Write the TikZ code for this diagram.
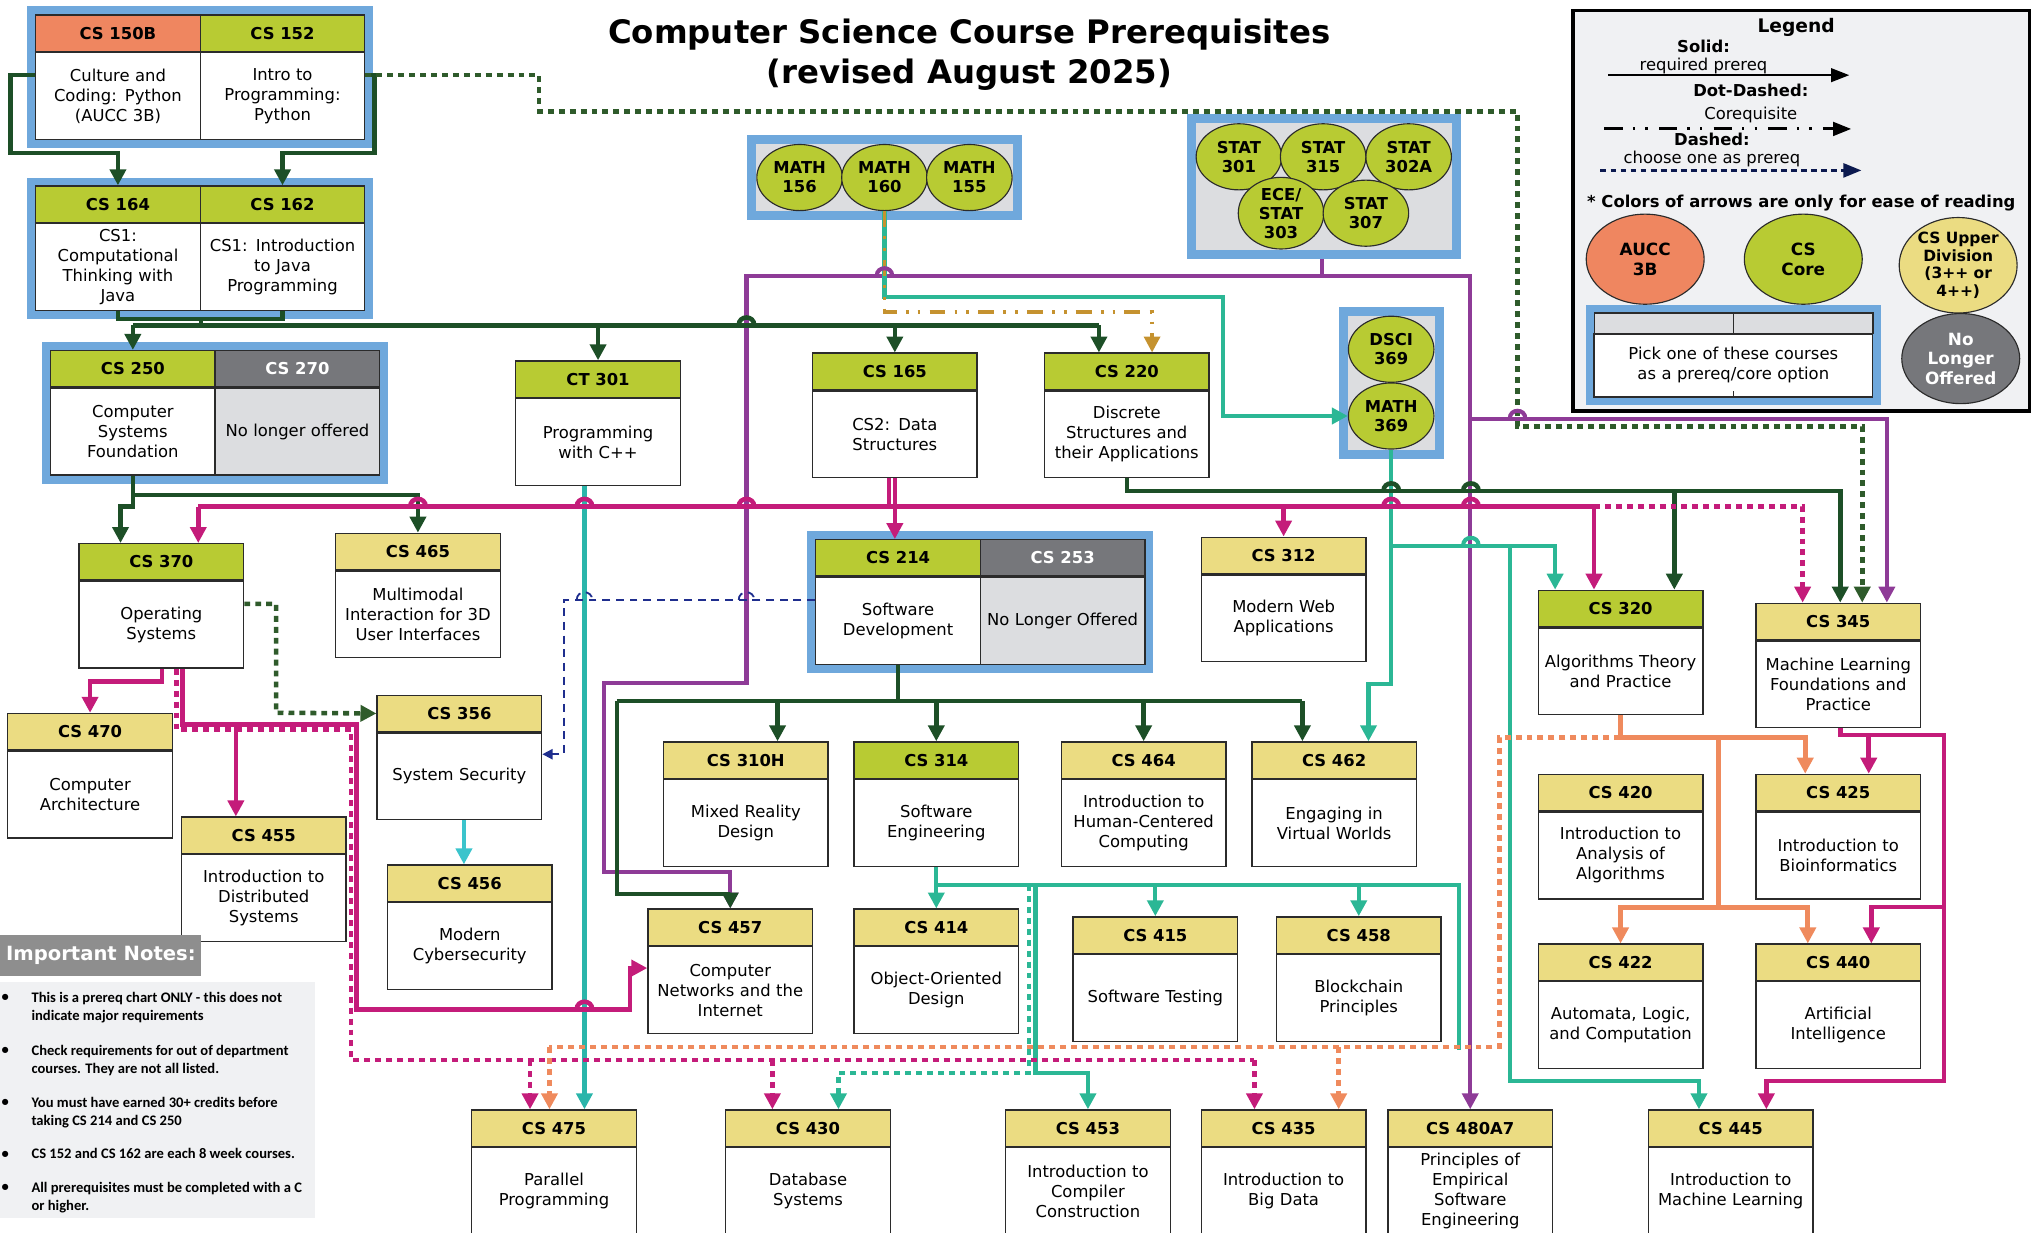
\documentclass[tikz,border=0pt]{standalone}
\usepackage{fontspec}
\setmainfont{DejaVu Sans}
\newfontfamily\notesfont{Carlito}
\usetikzlibrary{arrows.meta,fit,backgrounds,shapes.geometric}

\definecolor{corecol}{HTML}{B8CB33}
\definecolor{uppercol}{HTML}{EBDC82}
\definecolor{aucccol}{HTML}{EF8660}
\definecolor{gonecol}{HTML}{76777B}
\definecolor{gonebody}{HTML}{DCDDE0}
\definecolor{framecol}{HTML}{6FA8DC}
\definecolor{legendbg}{HTML}{F0F1F3}
\definecolor{notehead}{HTML}{8E8E8E}
\definecolor{boxline}{HTML}{2B2B2B}
\definecolor{gcol}{HTML}{1D4F27}
\definecolor{gdotcol}{HTML}{2F5B2B}
\definecolor{mcol}{HTML}{C41C7A}
\definecolor{tcol}{HTML}{2BB795}
\definecolor{tcoltwo}{HTML}{2AB5AA}
\definecolor{ccol}{HTML}{3BC4CC}
\definecolor{pcol}{HTML}{8E3B97}
\definecolor{ocol}{HTML}{EF8A5D}
\definecolor{goldcol}{HTML}{C5922F}
\definecolor{navycol}{HTML}{1F2E8E}
\definecolor{darknavy}{HTML}{0C1A4F}

\newcommand\course[6][desc]{%
  \node[#4] (#2) at (#3) {#5};
  \node[#1] (#2b) at (#2.south) {#6};}
\newcommand\linehop[3]{\draw[#1] (#2-6,#3) .. controls (#2-6,#3-8) and (#2+6,#3-8) .. (#2+6,#3);}

\begin{document}
\begin{tikzpicture}[x=0.2mm, y=-0.2mm,
  >={Triangle[length=7pt,width=7pt]},
  hdr/.style={draw=boxline, line width=0.6pt, minimum width=25.4mm, minimum height=5.6mm, inner sep=0pt, anchor=north, font=\bfseries\fontsize{7.2}{8}\selectfont},
  core/.style={hdr, fill=corecol},
  upper/.style={hdr, fill=uppercol},
  aucc/.style={hdr, fill=aucccol},
  gone/.style={hdr, fill=gonecol, text=white},
  desc/.style={draw=boxline, line width=0.6pt, fill=white, minimum width=25.4mm, minimum height=13.4mm, text width=24mm, align=center, inner sep=0pt, anchor=north, font=\fontsize{7.2}{8.8}\selectfont},
  gonedesc/.style={desc, fill=gonebody},
  grp/.style={fill=framecol, inner sep=1.2mm},
  cgrp/.style={fill=gonebody, draw=framecol, line width=1.4mm, inner sep=0.7mm},
  oval/.style={ellipse, draw=boxline, line width=0.5pt, fill=corecol, minimum width=13.2mm, minimum height=10.2mm, inner sep=0pt, align=center, font=\bfseries\fontsize{7.2}{8.4}\selectfont},
  bigoval/.style={oval, minimum width=18.2mm, minimum height=13.9mm, font=\bfseries\fontsize{7.4}{8.6}\selectfont},
  gline/.style={draw=gcol, line width=2pt},
  gdot/.style={draw=gdotcol, line width=2pt, dash pattern=on 2.6pt off 2.2pt},
  mline/.style={draw=mcol, line width=2pt},
  mdot/.style={draw=mcol, line width=2pt, dash pattern=on 2.6pt off 2.2pt},
  tline/.style={draw=tcol, line width=1.8pt},
  tdot/.style={draw=tcol, line width=2pt, dash pattern=on 2.6pt off 2.2pt},
  cline/.style={draw=ccol, line width=1.8pt},
  pline/.style={draw=pcol, line width=1.8pt},
  oline/.style={draw=ocol, line width=2.2pt},
  odot/.style={draw=ocol, line width=2pt, dash pattern=on 2.6pt off 2.2pt},
  goldline/.style={draw=goldcol, line width=1.6pt, dash pattern=on 7pt off 4pt on 1.2pt off 4pt on 1.2pt off 4pt},
  nline/.style={draw=navycol, line width=0.8pt, dash pattern=on 3.5pt off 2.5pt, >={Triangle[length=4.5pt,width=4.5pt]}},
  lgtext/.style={font=\fontsize{7.2}{8.6}\selectfont, inner sep=0pt},
  lgbold/.style={font=\bfseries\fontsize{7.2}{8.6}\selectfont, inner sep=0pt},
  note/.style={anchor=north west, inner sep=0pt, align=left, font=\notesfont\bfseries\fontsize{6.4}{7.9}\selectfont},
  bul/.style={inner sep=0pt, font=\notesfont\bfseries\fontsize{6.4}{7.9}\selectfont}
]
\useasboundingbox (0,0) rectangle (1568,951);

\node[font=\bfseries\fontsize{14.2}{17.6}\selectfont, align=center] (title) at (748,42)
  {Computer Science Course Prerequisites\\(revised August 2025)};

\course{c150b}{91,11}{aucc}{CS 150B}{Culture and\\Coding: Python\\(AUCC 3B)}
\course{c152}{218,11}{core}{CS 152}{Intro to\\Programming:\\Python}
\course{c164}{91,143}{core}{CS 164}{CS1:\\Computational\\Thinking with\\Java}
\course{c162}{218,143}{core}{CS 162}{CS1: Introduction\\to Java\\Programming}
\course{c250}{102.5,270}{core}{CS 250}{Computer\\Systems\\Foundation}
\course[gonedesc]{c270}{229.5,270}{gone}{CS 270}{No longer offered}
\course{c301}{461.5,278}{core}{CT 301}{Programming\\with C++}
\course{c165}{690.5,272}{core}{CS 165}{CS2: Data\\Structures}
\course{c220}{869.5,272}{core}{CS 220}{Discrete\\Structures and\\their Applications}

\course{c370}{124.5,419}{core}{CS 370}{Operating\\Systems}
\course{c465}{322.5,411}{upper}{CS 465}{Multimodal\\Interaction for 3D\\User Interfaces}
\course{c214}{693,416}{core}{CS 214}{Software\\Development}
\course[gonedesc]{c253}{820,416}{gone}{CS 253}{No Longer Offered}
\course{c312}{990.5,414}{upper}{CS 312}{Modern Web\\Applications}
\course{c320}{1250.5,455}{core}{CS 320}{Algorithms Theory\\and Practice}
\course{c345}{1418.5,465}{upper}{CS 345}{Machine Learning\\Foundations and\\Practice}

\course{c470}{69.5,550}{upper}{CS 470}{Computer\\Architecture}
\course{c356}{354.5,536}{upper}{CS 356}{System Security}
\course{c455}{203.5,630}{upper}{CS 455}{Introduction to\\Distributed\\Systems}
\course{c456}{362.5,667}{upper}{CS 456}{Modern\\Cybersecurity}

\course{c310h}{575.5,572}{upper}{CS 310H}{Mixed Reality\\Design}
\course{c314}{722.5,572}{core}{CS 314}{Software\\Engineering}
\course{c464}{882.5,572}{upper}{CS 464}{Introduction to\\Human-Centered\\Computing}
\course{c462}{1029.5,572}{upper}{CS 462}{Engaging in\\Virtual Worlds}
\course{c420}{1250.5,597}{upper}{CS 420}{Introduction to\\Analysis of\\Algorithms}
\course{c425}{1418.5,597}{upper}{CS 425}{Introduction to\\Bioinformatics}

\course{c457}{563.5,701}{upper}{CS 457}{Computer\\Networks and the\\Internet}
\course{c414}{722.5,701}{upper}{CS 414}{Object-Oriented\\Design}
\course{c415}{891.5,707}{upper}{CS 415}{Software Testing}
\course{c458}{1048.5,707}{upper}{CS 458}{Blockchain\\Principles}
\course{c422}{1250.5,728}{upper}{CS 422}{Automata, Logic,\\and Computation}
\course{c440}{1418.5,728}{upper}{CS 440}{Artificial\\Intelligence}

\course{c475}{427.5,856}{upper}{CS 475}{Parallel\\Programming}
\course{c430}{623.5,856}{upper}{CS 430}{Database\\Systems}
\course{c453}{839.5,856}{upper}{CS 453}{Introduction to\\Compiler\\Construction}
\course{c435}{990.5,856}{upper}{CS 435}{Introduction to\\Big Data}
\course{c480}{1134.5,856}{upper}{CS 480A7}{Principles of\\Empirical\\Software\\Engineering}
\course{c445}{1335.5,856}{upper}{CS 445}{Introduction to\\Machine Learning}

% math and stat options
\node[oval] (m156) at (617,137) {MATH\\156};
\node[oval] (m160) at (682.5,137) {MATH\\160};
\node[oval] (m155) at (748,137) {MATH\\155};
\node[oval] (s301) at (956,121) {STAT\\301};
\node[oval] (s315) at (1021,121) {STAT\\315};
\node[oval] (s302) at (1087,121) {STAT\\302A};
\node[oval] (s303) at (988.5,164.5) {ECE/\\STAT\\303};
\node[oval] (s307) at (1054,164.5) {STAT\\307};
\node[oval] (d369) at (1073.5,269.5) {DSCI\\369};
\node[oval] (m369) at (1073.5,321) {MATH\\369};

% legend
\node[font=\bfseries\fontsize{8.2}{9}\selectfont, inner sep=0pt] (lgtitle) at (1386,21) {Legend};
\node[lgbold] (lgsolid) at (1314.5,36) {Solid:};
\node[lgtext] (lgreq) at (1314.5,51) {required prereq};
\node[lgbold] (lgdd) at (1351,70) {Dot-Dashed:};
\node[lgtext] (lgco) at (1351,88.5) {Corequisite};
\node[lgbold] (lgdash) at (1321,107.5) {Dashed:};
\node[lgtext] (lgone) at (1321,123) {choose one as prereq};
\node[lgbold] (lgnote) at (1390,157) {* Colors of arrows are only for ease of reading};
\draw[line width=0.9pt, -{Triangle[length=8pt,width=6pt]}] (1241,58) -- (1427,58);
\draw[line width=1.3pt, dash pattern=on 8pt off 4.5pt on 1pt off 4.5pt on 1pt off 5pt, -{Triangle[length=8pt,width=6pt]}] (1238,99.5) -- (1428.5,99.5);
\draw[darknavy, line width=1.5pt, dash pattern=on 2.6pt off 1.8pt, -{Triangle[length=8pt,width=6pt]}] (1235,131.5) -- (1436.5,131.5);
\node[bigoval, fill=aucccol] (lgaucc) at (1269.5,200) {AUCC\\3B};
\node[bigoval] (lgcore) at (1391.5,200) {CS\\Core};
\node[bigoval, fill=uppercol, font=\bfseries\fontsize{6.8}{7.9}\selectfont] (lgupper) at (1511,204.7) {CS Upper\\Division\\(3++ or\\4++)};
\node[bigoval, fill=gonecol, text=white] (lggone) at (1513,276.7) {No\\Longer\\Offered};
\node[hdr, fill=gonebody, minimum width=21.5mm, minimum height=3.2mm] (lgh1) at (1284,241) {};
\node[hdr, fill=gonebody, minimum width=21.5mm, minimum height=3.2mm] (lgh2) at (1391.5,241) {};
\node[desc, minimum width=43mm, text width=42mm, minimum height=9.7mm] (lgbody) at (1337.5,257.2) {Pick one of these courses\\as a prereq/core option};
\draw[boxline, line width=0.6pt] (lgbody.south) -- ++(0,-5);

% notes
\node[fill=notehead, text=white, anchor=north west, minimum width=31mm, minimum height=6.4mm, inner sep=0pt, font=\bfseries\fontsize{8.6}{10}\selectfont] (nhead) at (0,721) {Important Notes:};
\fill[legendbg] (0,758) rectangle (243,940);
\node[bul] at (4,770) {\textbullet};
\node[note] (n1) at (24,765) {This is a prereq chart ONLY - this does not\\indicate major requirements};
\node[bul] at (4,811) {\textbullet};
\node[note] (n2) at (24,806) {Check requirements for out of department\\courses. They are not all listed.};
\node[bul] at (4,851) {\textbullet};
\node[note] (n3) at (24,846) {You must have earned 30+ credits before\\taking CS 214 and CS 250};
\node[bul] at (4,891) {\textbullet};
\node[note] (n4) at (24,886) {CS 152 and CS 162 are each 8 week courses.};
\node[bul] at (4,917) {\textbullet};
\node[note] (n5) at (24,912) {All prerequisites must be completed with a C\\or higher.};

\begin{scope}[on background layer]
  \draw[line width=1.6pt, fill=legendbg] (1214,8) rectangle (1566,317);
  \node[grp, fit=(c150b)(c152b)] (g1) {};
  \node[grp, fit=(c164)(c162b)] (g2) {};
  \node[grp, fit=(c250)(c270b)] (g3) {};
  \node[grp, fit=(c214)(c253b)] (g4) {};
  \node[grp, fit=(lgh1)(lgbody)] (g5) {};
  \node[cgrp, fit=(m156)(m155)] (mathgrp) {};
  \node[cgrp, fit=(s301)(s302)(s303)(s307)] (statgrp) {};
  \node[cgrp, fit=(d369)(m369)] (dscigrp) {};
\end{scope}

% purple
\draw[pline] (1020,0 |- statgrp.south) -- (1020,213);
\draw[pline,->] (1020,213) -| (576,527) -| (466,673) -| (c457.north);
\draw[pline,->] (1020,213) -| (c480.north);
\draw[pline,->] (1135,323) -| (1456,0 |- c345.north);

% teal
\draw[tline,->] (m160.south) -- (682.5,229) -| (944,321) -- (m369.west);
\draw[tline,->] (m369.south) -- (1073.5,528) -| (1056,0 |- c462.north);
\draw[tline,->] (1073.5,421) -| (1200,0 |- c320.north);
\draw[tline,->] (1165,421) -- (1165,834) -| (1311,0 |- c445.north);
\draw[tline,draw=tcoltwo,->] (451,0 |- c301b.south) -- (451,0 |- c475.north);
\draw[tline] (c314b.south) -- (722.5,683) -- (1126,683) -- (1126,810);
\draw[tline,->] (722.5,683) -- (c414.north);
\draw[tline,->] (891.5,683) -- (c415.north);
\draw[tline,->] (1048.5,683) -- (c458.north);
\draw[tline,->] (799,683) -- (799,828) -| (c453.north);
\draw[tdot,->] (794,683) -- (794,828) -| (647,0 |- c430.north);
\draw[cline,->] (358,0 |- c356b.south) -- (358,0 |- c456.north);
\draw[goldline,->] (m160.south) -- (682.5,241) -| (889,0 |- c220.north);

% green
\draw[gline,->] (c150bb.west |- 0,58) -| (8,118) -| (c164.north);
\draw[gline,->] (c152b.east |- 0,58) -| (289,118) -| (c162.north);
\draw[gdot,->] (c152b.east |- 0,58) -| (416,86) -| (1171,329) -| (1437,0 |- c345.north);
\draw[gline] (c164b.south) -- (91,246) -- (218,246) -- (c162b.south);
\draw[gline] (155,246) -- (155,251);
\draw[gline] (102.5,251) -- (848,251);
\draw[gline,->] (c250.north |- 0,251) -- (c250.north);
\draw[gline,->] (c301.north |- 0,251) -- (c301.north);
\draw[gline,->] (c165.north |- 0,251) -- (c165.north);
\draw[gline,->] (848,251) -- (848,0 |- c220.north);
\draw[gline,->] (c250b.south) -- (102.5,382) -| (c465.north);
\draw[gline,->] (102.5,382) -- (102.5,391) -| (93,0 |- c370.north);
\draw[gline,->] (c220b.south) -- (869.5,379) -| (1420,0 |- c345.north);
\draw[gline,->] (1292,379) -- (1292,0 |- c320.north);
\draw[gline] (c214b.south) -- (693,541);
\draw[gline] (476,541) -- (1005,541);
\draw[gline,->] (600,541) -- (600,0 |- c310h.north);
\draw[gline,->] (c314.north |- 0,541) -- (c314.north);
\draw[gline,->] (c464.north |- 0,541) -- (c464.north);
\draw[gline,->] (1005,541) -- (1005,0 |- c462.north);
\draw[gline,->] (476,541) -- (476,690) -| (c457.north);
\draw[gdot,->] (c370b.east |- 0,466) -| (213,550) -- (c356.west);

% magenta
\draw[mline] (686,0 |- c165b.south) -- (686,391);
\draw[mline,->] (c165b.south) -- (c165b.south |- c214.north);
\draw[mline] (153,391) -- (1230,391);
\draw[mline,->] (153,391) -- (153,0 |- c370.north);
\draw[mline,->] (c312.north |- 0,391) -- (c312.north);
\draw[mline,->] (1230,391) -- (1230,0 |- c320.north);
\draw[mdot,->] (1230,391) -- (1391,391) -- (1391,0 |- c345.north);
\draw[mline,->] (125,0 |- c370b.south) -- (125,526) -| (c470.north);
\draw[mline,->] (141,0 |- c370b.south) -- (141,559) -| (182,0 |- c455.north);
\draw[mline,->] (141,559) -| (275,779) -| (486,747) -- (c457b.west |- 0,747);
\draw[mdot] (136,0 |- c370b.south) -- (136,563) -- (271,563) -- (271,818) -- (968,818);
\draw[mdot,->] (409,818) -- (409,0 |- c475.north);
\draw[mdot,->] (596,818) -- (596,0 |- c430.north);
\draw[mdot,->] (968,818) -- (968,0 |- c435.north);
\draw[mline,->] (1420,0 |- c345b.south) -- (1420,567) -| (1500,834) -| (1363,0 |- c445.north);
\draw[mline,->] (1442,567) -- (1442,0 |- c425.north);
\draw[mline,->] (1500,700) -| (1444,0 |- c440.north);

% orange
\draw[oline,->] (c320b.south) -- (1250.5,569) -| (1393,0 |- c425.north);
\draw[oline] (1326,569) -- (1326,700);
\draw[oline,->] (1326,700) -| (c422.north);
\draw[oline,->] (1326,700) -| (1395,0 |- c440.north);
\draw[odot] (1250,569) -| (1157,808) -- (424,808);
\draw[odot,->] (424,808) -- (424,0 |- c475.north);
\draw[odot,->] (1033,808) -- (1033,0 |- c435.north);

% navy
\draw[nline,->] (c214b.west |- 0,463) -| (435,582) -- (c356b.east |- 0,582);

% hops
\linehop{pline}{682.5}{213}
\linehop{gline}{576}{251}
\linehop{mline}{322.5}{391}
\linehop{mline}{451}{391}
\linehop{mline}{576}{391}
\linehop{mline}{1073.5}{391}
\linehop{mline}{1135}{391}
\linehop{gline}{1073.5}{379}
\linehop{gline}{1135}{379}
\linehop{tline}{1135}{421}
\linehop{nline}{451}{463}
\linehop{nline}{576}{463}
\linehop{mline}{451}{779}
\linehop{pline}{1171}{323}
\end{tikzpicture}
\end{document}
